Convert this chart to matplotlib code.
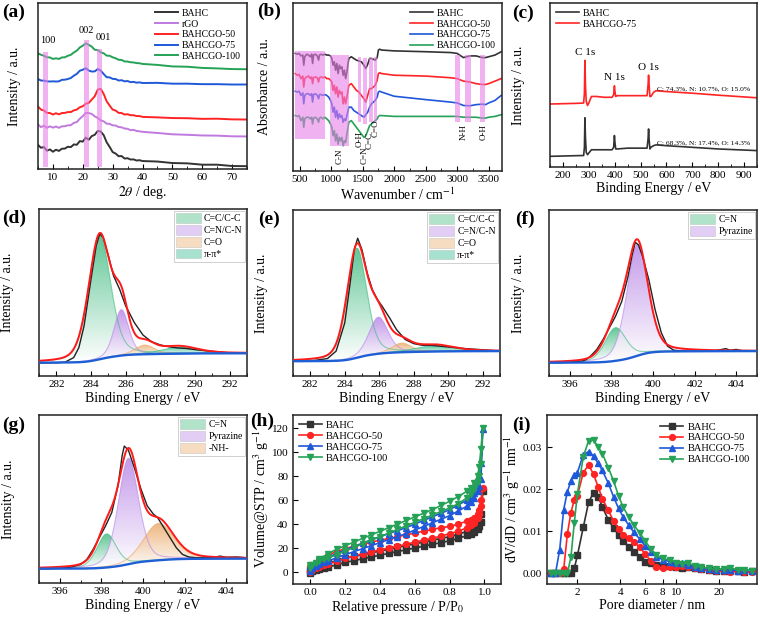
import numpy as np
import matplotlib
matplotlib.use("Agg")
import matplotlib.pyplot as plt
import matplotlib.ticker as mticker
import matplotlib.transforms as mtransforms
from matplotlib.colors import LinearSegmentedColormap
from matplotlib.patches import Patch
from matplotlib.path import Path

plt.rcParams['font.family'] = ['Liberation Serif', 'DejaVu Serif']
plt.rcParams['mathtext.fontset'] = 'stix'
plt.rcParams['xtick.direction'] = 'in'
plt.rcParams['ytick.direction'] = 'in'
plt.rcParams['axes.linewidth'] = 1.1
plt.rcParams['axes.edgecolor'] = '#222222'
plt.rcParams['xtick.major.size'] = 3.5
plt.rcParams['xtick.minor.size'] = 2
plt.rcParams['ytick.major.size'] = 3.5
plt.rcParams['xtick.labelsize'] = 8
plt.rcParams['ytick.labelsize'] = 8
plt.rcParams['axes.labelsize'] = 10
plt.rcParams['xtick.major.pad'] = 3

# ---------------- (a) XRD ----------------
xrd_x = list(range(5, 41)) + [45, 50, 55, 60, 65, 70, 75]
xrd_bahc = [14.5, 12.8, 13.2, 11.0, 11.8, 10.4, 11.6, 10.9, 12.2, 12.3, 13.4, 13.2, 14.8, 14.6, 16.8, 16.5,
            18.9, 17.6, 19.8, 20.6, 22.9, 22.6, 20.4, 16.1, 13.3, 10.2, 9.3, 7.7, 7.8, 6.3, 6.5, 5.7,
            5.8, 5.1, 5.3, 4.8, 4.5, 3.6, 3.4, 2.6, 2.6, 1.8, 1.7]
xrd_rgo = [26.8, 25.2, 26.1, 24.8, 25.7, 24.9, 25.6, 24.8, 25.7, 25.8, 26.3, 26.4, 27.8, 28.3, 30.3, 31.8,
           33.8, 33.7, 33.2, 31.7, 30.8, 29.3, 28.7, 27.3, 27.2, 26.3, 26.2, 25.3, 25.1, 24.4, 24.2, 23.4,
           23.6, 22.9, 22.7, 22.4, 21.7, 20.9, 20.6, 20.2, 20.1, 19.7, 19.6]
xrd_go50 = [37.6, 35.8, 35.2, 33.8, 33.7, 32.8, 33.6, 32.9, 33.7, 33.8, 34.3, 34.3, 35.3, 35.8, 37.2, 37.8,
            39.3, 39.8, 41.8, 43.8, 47.8, 48.3, 45.2, 40.8, 38.2, 35.8, 35.2, 33.8, 33.7, 32.8, 33.0, 32.4,
            32.4, 31.9, 31.9, 31.4, 31.1, 30.7, 30.6, 30.2, 30.3, 29.9, 29.8]
xrd_go75 = [54.2, 53.3, 53.2, 52.8, 52.7, 52.8, 52.7, 52.8, 53.7, 53.8, 54.2, 54.8, 56.2, 57.3, 59.2, 59.8,
            60.7, 59.3, 58.7, 58.8, 60.2, 59.3, 57.2, 55.3, 55.2, 54.3, 54.2, 53.3, 53.5, 52.8, 53.0, 52.3,
            52.5, 52.0, 52.2, 51.8, 51.9, 51.4, 51.4, 51.1, 51.1, 50.9, 50.9]
xrd_go100 = [69.7, 68.8, 68.2, 67.3, 67.2, 66.3, 66.7, 66.3, 67.2, 67.3, 68.2, 68.8, 70.2, 71.3, 73.2, 74.3,
             75.7, 74.8, 73.7, 71.8, 71.7, 70.3, 69.7, 68.3, 68.2, 67.3, 66.7, 65.8, 65.7, 64.8, 64.7, 64.3,
             64.2, 63.8, 63.7, 63.3, 62.7, 61.8, 61.6, 60.9, 60.6, 60.2, 60.1]
xrd_names = ['BAHC', 'rGO', 'BAHCGO-50', 'BAHCGO-75', 'BAHCGO-100']
xrd_band_x0 = [6.7, 20.5, 24.7]
xrd_band_x1 = [8.4, 22.1, 26.3]
xrd_band_top = [70.5, 78, 72.5]
xrd_band_lab = ['100', '002', '001']
xrd_lab_x = [8.2, 21.3, 26.8]
xrd_lab_y = [74.5, 81, 76.5]

# ---------------- (b) FTIR ----------------
ftir_x = [430, 460, 490, 520, 550, 565, 580, 610, 640, 670, 690, 705, 720, 750, 780, 800, 815, 840, 870, 900,
          930, 960, 990, 1010, 1030, 1050, 1070, 1090, 1110, 1130, 1150, 1170, 1190, 1210, 1230, 1250, 1280,
          1320, 1360, 1400, 1440, 1480, 1520, 1550, 1580, 1610, 1640, 1670, 1700, 1730, 1750, 1770, 1800,
          2000, 2500, 2900, 3000, 3100, 3200, 3300, 3400, 3450, 3500, 3600, 3700]
ftir_bahc = [70, 69.5, 70, 68.5, 69, 63, 68, 69.5, 69, 68, 69.5, 64, 69, 69.5, 68.5, 66, 69, 69.5, 69, 69.5,
             69, 69, 68.5, 67, 63, 65, 60, 64, 58, 63, 61, 62, 57, 60, 55, 59, 67,
             68, 67, 66, 65.5, 65, 63, 61, 63.5, 67, 67, 66.5, 66, 67.5, 72, 72.5, 72,
             71.5, 71, 70.5, 70, 67.5, 68.5, 68.5, 67.5, 67.5, 68, 69, 71]
ftir_go50 = [58, 57, 57.5, 55, 56.5, 50, 55, 56, 56.5, 55, 56, 52, 55.5, 56, 55.5, 53, 55.5, 56, 55.5, 56,
             55, 55, 54, 53, 48, 51, 46, 50, 44, 48, 46, 47, 40, 44, 40, 44, 51,
             52, 50, 48, 47, 45, 43, 41, 45, 49, 49, 50, 51, 54, 58, 58.5, 58,
             57, 56.5, 55.5, 55, 53.5, 53, 52, 51.5, 51.5, 52, 53.5, 55]
ftir_go75 = [47.5, 47, 47.5, 45, 46.5, 40, 45, 46, 46, 45, 46, 41, 45.5, 46, 45, 43, 45.5, 45.5, 45, 45.5,
             45, 44, 42, 40, 35, 38, 32, 36, 31, 34, 32, 33, 29, 31, 30, 33, 38,
             38, 36, 35, 34, 33, 32, 33.5, 35, 38, 40, 41, 42, 44, 47, 47.5, 47,
             44.5, 42.5, 41, 40.5, 39, 38.8, 39.5, 39.8, 39.5, 40.5, 42, 45]
ftir_go100 = [33, 32.5, 33, 30, 32, 26, 31, 32, 32, 31, 32, 28, 31.5, 32, 31, 29, 31.5, 32, 31, 32,
              31, 30, 28, 26, 21, 24, 18, 22, 16, 20, 18, 20, 15, 18, 17, 22, 29,
              30, 28, 26, 24, 22, 20, 21, 24, 27, 28, 29, 30, 31, 32.5, 33, 33,
              32.5, 32.5, 32.5, 32.5, 32, 32, 32, 31.5, 31.5, 32, 32.5, 33.5]
ftir_names = ['BAHC', 'BAHCGO-50', 'BAHCGO-75', 'BAHCGO-100']
ftir_band_x0 = [431, 987, 1426, 1505, 1606, 1675, 2968, 3132, 3365]
ftir_band_x1 = [907, 1278, 1479, 1569, 1664, 1728, 3048, 3212, 3450]
ftir_band_top = [71.3, 69.3, 68, 67.5, 67.5, 68, 69.3, 69, 69.3]
ftir_band_bot = [18.8, 15, 29, 28, 29, 29, 29, 29, 29]
ftir_lab = ['C-N', 'O-H', 'C=N', 'C=C', 'C=O', 'N-H', 'O-H']
ftir_lab_x = [1135, 1445, 1525, 1605, 1700, 3110, 3420]
ftir_lab_y = [13.5, 23.5, 14.5, 23.5, 31, 28, 28]

# ---------------- (c) XPS survey ----------------
survey_x = [150, 200, 250, 280, 283, 285, 287, 290, 295, 300, 310, 330, 360, 390, 396, 399, 401, 404, 410, 450,
            500, 525, 529, 531, 533, 536, 540, 550, 560, 600, 700, 800, 950]
survey_go75 = [38.4, 38.6, 38.8, 39, 45, 65, 50, 40, 37.5, 39, 43, 43, 42.5, 42.5, 44, 49.5, 46, 43, 43.5, 43.5,
               43.5, 43.5, 50, 56, 50, 43, 43, 45.5, 46.5, 46, 45, 43.8, 42.2]
survey_bahc = [6.5, 6.7, 6.9, 7, 12, 30, 18, 9, 7.5, 8.5, 10.5, 10.5, 10.5, 10.5, 12, 19.2, 15, 11, 11, 11.5,
               11.5, 11.5, 17, 23.2, 17, 11, 12, 13, 13.5, 13, 12, 11, 10]

# ---------------- (d)-(g) high resolution XPS ----------------
d_x = [281, 282, 282.5, 283, 283.3, 283.6, 284, 284.3, 284.5, 284.7, 285, 285.3, 285.65, 286, 286.5, 287,
       287.5, 288, 288.5, 289, 289.5, 290, 291, 292, 293]
d_y = [7.8, 7.9, 8.3, 11, 17, 30, 58, 78, 85, 83, 72, 60, 52, 42, 32, 24.5, 20.5, 18.6, 17.5, 16.8, 16.5,
       15.8, 14.8, 13.8, 13.5]
d_centers = [284.5, 285.75, 287.1, 289.1]
d_heights = [74, 27.5, 5.5, 3.8]
d_fwhm = [1.5, 1.0, 1.3, 2.4]
d_bg = [8.0, 13.6]

e_x = [281, 282, 283, 283.5, 284, 284.3, 284.55, 284.75, 285, 285.3, 285.6, 285.9, 286.2, 286.6, 287, 287.5,
       288, 288.5, 289, 289.5, 290, 291, 292, 293]
e_y = [8.9, 9, 10.5, 15, 32, 55, 76, 83, 76, 62, 52, 46, 41.5, 35, 28, 22, 19.5, 18.5, 18.5, 18, 17.5,
       16.5, 15.8, 15]
e_centers = [284.7, 285.95, 287.3, 289.2]
e_heights = [66, 22, 5.5, 3.5]
e_fwhm = [1.35, 1.3, 1.3, 2.5]
e_bg = [8.9, 15.0]

c1s_names = ['C=C/C-C', 'C=N/C-N', 'C=O', 'π-π*']
c1s_colors = ['#3dba7e', '#b784e6', '#eaa865', '#21b888']

f_x = [395, 395.5, 396, 396.3, 396.6, 396.8, 397, 397.3, 397.6, 397.9, 398.2, 398.5, 398.8, 399, 399.15,
       399.3, 399.5, 399.8, 400.1, 400.4, 400.7, 401, 401.5, 402, 402.5, 403, 403.5, 403.7, 404, 404.3, 405]
f_y = [8, 8, 8.3, 8.8, 9, 10, 12, 16, 22, 29, 36, 45, 60, 73, 80.5, 79, 72, 58, 40, 26, 18, 15.5, 15, 15,
       15, 15.2, 16.5, 15.5, 16, 15.2, 15]
f_centers = [398.2, 399.25]
f_heights = [20, 67]
f_fwhm = [1.2, 1.2]
f_bg = [8.0, 15.0]

g_x = [395, 395.5, 396, 396.5, 397, 397.3, 397.6, 397.9, 398.2, 398.5, 398.8, 399.0, 399.1, 399.3, 399.6,
       399.9, 400.2, 400.5, 400.7, 401, 401.3, 401.6, 401.9, 402.2, 402.6, 403, 403.5, 403.7, 404, 404.5, 405]
g_y = [8.5, 8.5, 8.8, 9.3, 11, 14, 20, 27, 34, 42, 58, 76, 81.5, 79, 68, 56, 46, 41, 39, 33, 27, 21, 17,
       15.5, 15, 15, 15.5, 16, 15.3, 15.5, 15]
g_centers = [398.25, 399.3, 400.75]
g_heights = [20, 63, 22]
g_fwhm = [1.1, 1.15, 1.7]
g_bg = [8.5, 14.5]

n1s_names = ['C=N', 'Pyrazine', '-NH-']
n1s_colors = ['#3dba7e', '#b784e6', '#eaa865']

# ---------------- (h) N2 isotherms ----------------
p_ads = [0.0, 0.01, 0.03, 0.05, 0.08, 0.1, 0.15, 0.2, 0.25, 0.3, 0.35, 0.4, 0.45, 0.5, 0.55, 0.6, 0.65, 0.7,
         0.75, 0.8, 0.85, 0.9, 0.92, 0.94, 0.96, 0.97, 0.98, 0.99]
p_des = [0.98, 0.97, 0.96, 0.94, 0.92, 0.9, 0.85, 0.8, 0.75, 0.7, 0.65, 0.6, 0.55, 0.5, 0.45, 0.4, 0.35,
         0.3, 0.25, 0.2, 0.15, 0.1, 0.05, 0.0]
iso_bahc_ads = [-1, 0.5, 1.5, 2.5, 3.5, 4, 6, 8, 9.5, 11, 12.5, 14, 15.5, 17, 18.5, 20, 21.5, 23, 24.5, 26,
                28, 30.5, 32, 33.5, 36, 38, 42, 68]
iso_bahc_des = [48, 42, 39, 36, 35, 34, 31.5, 29.5, 28, 26.5, 25, 23.5, 22, 20.5, 19, 17.5, 16, 14.5, 13,
                11.5, 9.5, 7.5, 5, 2]
iso_go50_ads = [0, 1.5, 3, 4.5, 5.5, 6.5, 9, 11.5, 13.5, 15, 17, 18.5, 20, 21.5, 23, 25, 26.5, 28, 30, 32,
                34, 37, 39, 41, 45, 48, 55, 70]
iso_go50_des = [60, 52, 48, 45, 43.5, 42.5, 40, 38, 37, 35.5, 34, 32.5, 31, 29.5, 28, 26.5, 25, 23, 21.5,
                19.5, 17, 14, 10, 5]
iso_go75_ads = [1, 3, 5, 6.5, 8, 9, 12, 14.5, 17, 19.5, 22, 24.5, 27, 29.5, 32, 35, 38, 41, 44, 47, 51, 55,
                58, 62, 68, 72, 78, 119]
iso_go75_des = [91, 79, 72, 66, 62, 60, 56, 52, 49, 46, 43, 40, 37, 34.5, 32, 29.5, 27, 24, 21.5, 18.5,
                15.5, 12, 9, 5]
iso_go100_ads = [3, 5.5, 7.5, 9, 10.5, 11.5, 14.5, 17.5, 20.5, 23.5, 26.5, 29.5, 32.5, 35.5, 38.5, 41.5,
                 44.5, 47.5, 50.5, 53.5, 57, 62, 65, 69, 75, 80, 90, 120]
iso_go100_des = [103, 88, 80, 74, 70, 67.5, 63, 59, 55.5, 52, 49, 46, 43, 40, 37, 34, 31, 28, 25, 22, 19,
                 15, 11, 6]

# ---------------- (i) pore size distribution ----------------
pore_d = [1.3, 1.4, 1.5, 1.6, 1.7, 1.8, 1.9, 2.0, 2.2, 2.4, 2.6, 2.8, 3.0, 3.3, 3.6, 3.9, 4.2, 4.6, 5.0,
          5.5, 6.0, 6.6, 7.2, 8.0, 9.0, 10.0, 11.0, 12.0, 13.5, 15.0, 17.0, 19.0, 21.5, 24.0, 27.0, 30.0, 34.0]
psd_bahc = [0, 0, 0, 0, 0, 0, 0.0012, 0.0043, 0.011, 0.017, 0.0192, 0.0183, 0.0158, 0.0128, 0.0108, 0.0092,
            0.0078, 0.0064, 0.0052, 0.004, 0.0028, 0.0024, 0.0021, 0.0019, 0.0017, 0.0015, 0.0014, 0.0016,
            0.0012, 0.001, 0.0008, 0.0006, 0.0007, 0.0005, 0.0006, 0.0004, 0.0005]
psd_go50 = [0, 0, 0, 0.001, 0.0095, 0.0145, 0.0175, 0.0185, 0.024, 0.0258, 0.0236, 0.0206, 0.0178, 0.015,
            0.0125, 0.0106, 0.0092, 0.0085, 0.0076, 0.0062, 0.0047, 0.003, 0.0016, 0.0013, 0.0015, 0.0016,
            0.0018, 0.0015, 0.0012, 0.001, 0.0008, 0.0006, 0.0005, 0.0004, 0.0005, 0.0003, 0.0004]
psd_go75 = [0, 0, 0.0057, 0.0152, 0.0195, 0.022, 0.0235, 0.024, 0.0283, 0.029, 0.0279, 0.0262, 0.0245,
            0.0215, 0.0182, 0.0155, 0.0135, 0.0115, 0.0098, 0.0082, 0.0066, 0.0052, 0.004, 0.0033, 0.0028,
            0.0026, 0.0024, 0.002, 0.0015, 0.0012, 0.001, 0.0009, 0.0008, 0.0009, 0.0007, 0.0008, 0.0006]
psd_go100 = [0, 0, 0, 0, 0, 0.004, 0.012, 0.019, 0.0278, 0.0316, 0.0317, 0.0302, 0.0285, 0.0252, 0.022,
             0.0185, 0.0158, 0.0135, 0.0115, 0.0097, 0.0078, 0.0058, 0.0045, 0.0036, 0.0032, 0.0026, 0.0023,
             0.0025, 0.0018, 0.0015, 0.0012, 0.001, 0.0011, 0.0013, 0.0009, 0.0008, 0.0007]
bet_names = ['BAHC', 'BAHCGO-50', 'BAHCGO-75', 'BAHCGO-100']

# colours
c_black = '#333333'
c_purple = '#c07ade'
c_red = '#ff2424'
c_blue = '#1f58d8'
c_green = '#25a257'
band_col = '#e880e8'

W, H = 760, 618
fig = plt.figure(figsize=(7.6, 6.18), dpi=100)


def box(l, t, r, b):
    return [l / W, 1 - b / H, (r - l) / W, (b - t) / H]


def ylab(ax, text, xright):
    ax.set_ylabel(text)
    tr = mtransforms.blended_transform_factory(fig.transFigure, ax.transAxes)
    ax.yaxis.set_label_coords(xright / W, 0.5, transform=tr)


def plabel(x, y, s):
    fig.text(x / W, 1 - y / H, s, fontsize=14, fontweight='bold', va='top', ha='left')


def pv(x, c, h, w, eta=0.3):
    g = np.exp(-4 * np.log(2) * ((x - c) / w) ** 2)
    lo = 1 / (1 + 4 * ((x - c) / w) ** 2)
    return h * ((1 - eta) * g + eta * lo)


def grad_fill(ax, x, top, base, color):
    m = (top - base) > 0.15
    xs, ts, bs = x[m], top[m], base[m]
    verts = np.concatenate([np.column_stack([xs, ts]), np.column_stack([xs[::-1], bs[::-1]])])
    path = Path(verts)
    cmap = LinearSegmentedColormap.from_list('g', ['#ffffff', color])
    im = ax.imshow(np.linspace(0, 0.9, 200).reshape(-1, 1), cmap=cmap, origin='lower', aspect='auto',
                   vmin=0, vmax=1, extent=[xs.min(), xs.max(), bs.min(), ts.max()], zorder=2,
                   interpolation='bilinear', alpha=0.9)
    im.set_clip_path(path, ax.transData)
    ax.plot(xs, ts, color=color, lw=0.8, alpha=0.6, zorder=3)


def xps_panel(ax, xr, dx, dy, centers, heights, fwhm, bgr, colors, names):
    x = np.linspace(xr[0], xr[1], 800)
    comps = [pv(x, c, h, w) for c, h, w in zip(centers, heights, fwhm)]
    tot = np.sum(comps, axis=0)
    frac = np.cumsum(tot) / np.sum(tot)
    bg = bgr[0] + (bgr[1] - bgr[0]) * frac
    for comp, col in zip(comps, colors):
        grad_fill(ax, x, bg + comp, bg, col)
    ax.plot(dx, dy, color='#222222', lw=1.0, zorder=4)
    ax.plot(x, bg + tot, color='#ff1a1a', lw=1.4, zorder=5)
    ax.plot(x, bg, color='#1f5fd6', lw=1.7, zorder=6)
    ax.set_xlim(xr)
    ax.set_ylim(0, 100)
    ax.set_yticks([])
    ax.xaxis.set_minor_locator(mticker.MultipleLocator(1))
    ax.set_xlabel('Binding Energy / eV', labelpad=2)
    handles = [Patch(facecolor=col, edgecolor='#aaaaaa', alpha=0.4, lw=0.6) for col in colors]
    leg = ax.legend(handles, names[:len(colors)], loc='upper right', fontsize=7, frameon=True,
                    fancybox=False, edgecolor='#bbbbbb', borderpad=0.25, handlelength=2.6,
                    handleheight=1.1, labelspacing=0.2, handletextpad=0.3, borderaxespad=0.2)
    leg.get_frame().set_linewidth(0.6)


# ---- (a)
ax = fig.add_axes(box(38, 3, 247, 169))
for ys, col, nm in zip([xrd_bahc, xrd_rgo, xrd_go50, xrd_go75, xrd_go100],
                       [c_black, c_purple, c_red, c_blue, c_green], xrd_names):
    ax.plot(xrd_x, ys, color=col, lw=1.4, label=nm)
for x0, x1, yt, lab, lx, ly in zip(xrd_band_x0, xrd_band_x1, xrd_band_top, xrd_band_lab, xrd_lab_x, xrd_lab_y):
    ax.fill_between([x0, x1], [1.2, 1.2], [yt, yt], color=band_col, alpha=0.6, lw=0, zorder=5)
    ax.text(lx, ly, lab, fontsize=7.5, ha='center', va='bottom')
ax.set_xlim(5, 75)
ax.set_ylim(0, 100)
ax.set_yticks([])
ax.set_xticks(range(10, 71, 10))
ax.xaxis.set_minor_locator(mticker.MultipleLocator(5))
ax.set_xlabel(r'$2\theta$ / deg.', labelpad=1.5)
ylab(ax, 'Intensity / a.u.', 21)
ax.legend(loc='upper right', fontsize=7, frameon=False, handlelength=2.4, labelspacing=0.18,
          handletextpad=0.4, borderaxespad=0.2)
plabel(2, 4, '(a)')

# ---- (b)
ax = fig.add_axes(box(293, 3, 502, 171))
for ys, col, nm in zip([ftir_bahc, ftir_go50, ftir_go75, ftir_go100], [c_black, c_red, c_blue, c_green],
                       ftir_names):
    ax.plot(ftir_x, ys, color=col, lw=1.2, label=nm)
for x0, x1, yt, yb in zip(ftir_band_x0, ftir_band_x1, ftir_band_top, ftir_band_bot):
    ax.fill_between([x0, x1], [yb, yb], [yt, yt], color=band_col, alpha=0.6, lw=0, zorder=5)
for lab, lx, ly in zip(ftir_lab, ftir_lab_x, ftir_lab_y):
    ax.text(lx, ly, lab, rotation=90, fontsize=6.5, ha='center', va='top')
ax.set_xlim(394, 3712)
ax.set_ylim(0, 100)
ax.set_yticks([])
ax.set_xticks(range(500, 3501, 500))
ax.xaxis.set_minor_locator(mticker.MultipleLocator(250))
ax.set_xlabel('Wavenumber / cm$^{-1}$', labelpad=1.5)
ylab(ax, 'Absorbance / a.u.', 271)
ax.legend(loc='upper right', fontsize=7, frameon=False, handlelength=2.4, labelspacing=0.18,
          handletextpad=0.4, borderaxespad=0.2)
plabel(257, 3, '(b)')

# ---- (c)
ax = fig.add_axes(box(550, 3, 757, 167))
ax.plot(survey_x, survey_bahc, color=c_black, lw=1.2, label='BAHC')
ax.plot(survey_x, survey_go75, color=c_red, lw=1.2, label='BAHCGO-75')
ax.text(285, 67, 'C 1s', fontsize=8, ha='center', va='bottom')
ax.text(400, 52, 'N 1s', fontsize=8, ha='center', va='bottom')
ax.text(532, 58, 'O 1s', fontsize=8, ha='center', va='bottom')
ax.text(563, 47.5, 'C: 74.3%, N: 10.7%, O: 15.0%', fontsize=5.4, ha='left', va='center')
ax.text(563, 15, 'C: 68.3%, N: 17.4%, O: 14.3%', fontsize=5.4, ha='left', va='center')
ax.set_xlim(150, 950)
ax.set_ylim(0, 100)
ax.set_yticks([])
ax.set_xticks(range(200, 901, 100))
ax.xaxis.set_minor_locator(mticker.MultipleLocator(50))
ax.set_xlabel('Binding Energy / eV', labelpad=1.5)
ylab(ax, 'Intensity / a.u.', 525)
ax.legend(loc='upper left', fontsize=7, frameon=False, handlelength=2.4, labelspacing=0.18,
          handletextpad=0.4, borderaxespad=0.2)
plabel(512, 5, '(c)')

# ---- (d)
ax = fig.add_axes(box(39, 209, 247, 376))
xps_panel(ax, (281, 293), d_x, d_y, d_centers, d_heights, d_fwhm, d_bg, c1s_colors, c1s_names)
ax.set_xticks(range(282, 293, 2))
ylab(ax, 'Intensity / a.u.', 14)
plabel(2, 210, '(d)')

# ---- (e)
ax = fig.add_axes(box(293, 210, 500, 376))
xps_panel(ax, (281, 293), e_x, e_y, e_centers, e_heights, e_fwhm, e_bg, c1s_colors, c1s_names)
ax.set_xticks(range(282, 293, 2))
ylab(ax, 'Intensity / a.u.', 268)
plabel(258, 211, '(e)')

# ---- (f)
ax = fig.add_axes(box(549, 210, 757, 376))
xps_panel(ax, (395, 405), f_x, f_y, f_centers, f_heights, f_fwhm, f_bg, n1s_colors[:2], n1s_names)
ax.set_xticks(range(396, 405, 2))
ylab(ax, 'Intensity / a.u.', 525)
plabel(515, 211, '(f)')

# ---- (g)
ax = fig.add_axes(box(39, 415, 247, 583))
xps_panel(ax, (395, 405), g_x, g_y, g_centers, g_heights, g_fwhm, g_bg, n1s_colors, n1s_names)
ax.set_xticks(range(396, 405, 2))
ylab(ax, 'Intensity / a.u.', 15)
plabel(2, 417, '(g)')

# ---- (h)
ax = fig.add_axes(box(293, 415, 501, 584))
for ads, des, col, mk, nm in zip([iso_bahc_ads, iso_go50_ads, iso_go75_ads, iso_go100_ads],
                                 [iso_bahc_des, iso_go50_des, iso_go75_des, iso_go100_des],
                                 [c_black, c_red, c_blue, c_green], ['s', 'o', '^', 'v'], bet_names):
    ax.plot(p_ads + p_des, ads + des, color=col, marker=mk, ms=4.2, lw=1.2, label=nm)
ax.set_xlim(-0.1, 1.095)
ax.set_ylim(-10, 131)
ax.set_xticks(np.arange(0, 1.01, 0.2))
ax.xaxis.set_major_formatter(mticker.FormatStrFormatter('%.1f'))
ax.set_yticks(range(0, 121, 20))
ax.set_xlabel('Relative pressure / P/P$_0$', labelpad=1.5)
ylab(ax, 'Volume@STP / cm$^3$ g$^{-1}$', 271)
ax.legend(loc='upper left', fontsize=7.5, frameon=False, handlelength=2.2, labelspacing=0.15,
          handletextpad=0.4, borderaxespad=0.15)
plabel(250, 413, '(h)')

# ---- (i)
ax = fig.add_axes(box(547, 415, 757, 584))
for ys, col, mk, nm in zip([psd_bahc, psd_go50, psd_go75, psd_go100], [c_black, c_red, c_blue, c_green],
                           ['s', 'o', '^', 'v'], bet_names):
    ax.plot(pore_d, ys, color=col, marker=mk, ms=4.2, lw=1.2, label=nm)
ax.set_xscale('log')
ax.set_xlim(1.22, 37)
ax.set_ylim(-0.0025, 0.0377)
ax.xaxis.set_major_locator(mticker.FixedLocator([2, 4, 6, 8, 10, 20]))
ax.xaxis.set_major_formatter(mticker.FuncFormatter(lambda v, p: f'{v:g}'))
ax.xaxis.set_minor_locator(mticker.NullLocator())
ax.set_yticks([0, 0.01, 0.02, 0.03])
ax.yaxis.set_major_formatter(mticker.FormatStrFormatter('%.2f'))
ax.set_xlabel('Pore diameter / nm', labelpad=1.5)
ylab(ax, 'dV/dD / cm$^3$ g$^{-1}$ nm$^{-1}$', 522)
ax.legend(loc='upper right', fontsize=7.5, frameon=False, handlelength=2.2, labelspacing=0.15,
          handletextpad=0.4, borderaxespad=0.3)
plabel(512, 417, '(i)')

fig.savefig('out.png', dpi=100)
